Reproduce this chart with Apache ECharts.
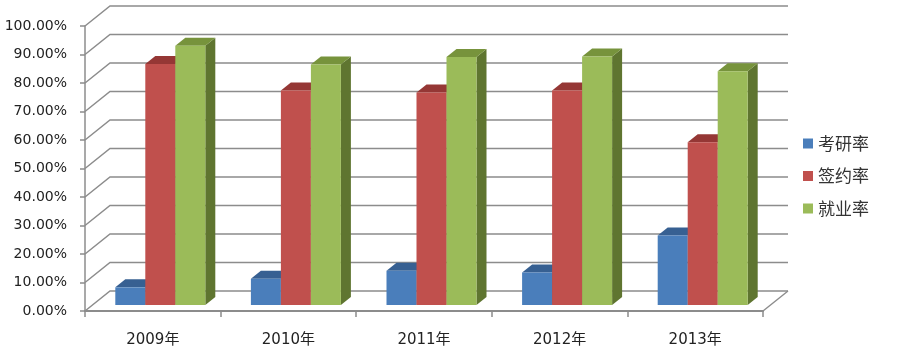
<!DOCTYPE html>
<html><head><meta charset="utf-8">
<style>html,body{margin:0;padding:0;background:#fff}#c{width:906px;height:363px}</style>
<script src="https://cdn.jsdelivr.net/npm/echarts@6/dist/echarts.min.js"></script>
</head><body><div id="c"></div>
<script>
var categories = ['2009年','2010年','2011年','2012年','2013年'];
var yTicks = [0,0.1,0.2,0.3,0.4,0.5,0.6,0.7,0.8,0.9,1];
var kaoyan  = [0.062,0.092,0.12,0.114,0.244];
var qianyue = [0.846,0.753,0.746,0.753,0.571];
var jiuye   = [0.91,0.844,0.87,0.872,0.82];

var WALL_DX = 25, WALL_DY = -20;
var BAR_W = 30, BAR_SHIFT = 7.5, FRONT = 0.3, DEPTH = 0.4;
var GRID = '#8c8c8c';

function wallItem(params, api) {
  var r = params.coordSys, y = api.coord([0, api.value(0)])[1];
  var x0 = r.x, x1 = r.x + r.width;
  var kids = [
    {type:'polyline', shape:{points:[[x0,y],[x0+WALL_DX,y+WALL_DY],[x1+WALL_DX,y+WALL_DY]]},
     style:{fill:null, stroke:GRID, lineWidth:1.5}}
  ];
  if (api.value(0) === 0) {
    kids.push({type:'line', shape:{x1:x1,y1:y,x2:x1+WALL_DX,y2:y+WALL_DY},
      style:{stroke:GRID, lineWidth:1.5}});
  }
  return {type:'group', children:kids};
}

function barRender(idx, front, top, side) {
  return function (params, api) {
    var c = api.coord([api.value(0), 0]);
    var t = api.coord([api.value(0), api.value(1)]);
    var x = c[0] + BAR_SHIFT + (idx - 1.5) * BAR_W;
    var yb = c[1] + WALL_DY * FRONT, yt = t[1] + WALL_DY * FRONT;
    var dx = WALL_DX * DEPTH, dy = WALL_DY * DEPTH, w = BAR_W;
    return {type:'group', children:[
      {type:'polygon', shape:{points:[[x+w,yb],[x+w+dx,yb+dy],[x+w+dx,yt+dy],[x+w,yt]]}, style:{fill:side}},
      {type:'polygon', shape:{points:[[x,yt],[x+dx,yt+dy],[x+w+dx,yt+dy],[x+w,yt]]}, style:{fill:top}},
      {type:'rect', shape:{x:x,y:yt,width:w,height:yb-yt}, style:{fill:front}}
    ]};
  };
}
function barSeries(name, data, idx, front, top, side) {
  return {type:'custom', name:name, z:3+idx, coordinateSystem:'cartesian2d',
    itemStyle:{color:front},
    data:data.map(function(v,i){return [i,v];}),
    encode:{x:0,y:1},
    renderItem:barRender(idx,front,top,side)};
}

var chart = echarts.init(document.getElementById('c'), null, {renderer:'canvas'});
chart.setOption({
  animation:false,
  backgroundColor:'#fff',
  grid:{left:85, right:143, top:26, bottom:52},
  legend:{orient:'vertical', left:798, top:130, itemWidth:10, itemHeight:10, itemGap:15.5,
    data:[{name:'考研率',icon:'rect'},{name:'签约率',icon:'rect'},{name:'就业率',icon:'rect'}],
    textStyle:{fontFamily:'"Noto Sans CJK SC"', fontSize:17, color:'#333', lineHeight:17}},
  xAxis:{type:'category', data:categories,
    axisLine:{lineStyle:{color:GRID,width:2}},
    axisTick:{show:true,length:6,lineStyle:{color:GRID,width:1.5}},
    axisLabel:{margin:22,fontSize:15,color:'#222',fontFamily:'"DejaVu Sans","Noto Sans CJK SC"'}},
  yAxis:{type:'value', min:0, max:1, interval:0.1,
    axisLine:{show:true,lineStyle:{color:GRID,width:1.5}},
    axisTick:{show:true,length:5,lineStyle:{color:GRID,width:1.5}},
    splitLine:{show:false},
    axisLabel:{margin:18,fontSize:14,color:'#222',fontFamily:'"DejaVu Sans"',padding:[2,0,0,0],
      formatter:function(v){return (v*100).toFixed(2)+'%';}}},
  series:[
    {type:'custom', name:'wall', z:1, coordinateSystem:'cartesian2d', silent:true,
      data:yTicks.map(function(v){return [v];}), encode:{y:0}, renderItem:wallItem},
    barSeries('考研率',kaoyan,0,'#4a7ebb','#376092','#2f5480'),
    barSeries('签约率',qianyue,1,'#c0504d','#953735','#7f2f2d'),
    barSeries('就业率',jiuye,2,'#9bbb59','#77933c','#5f7530')
  ]
});
</script></body></html>
